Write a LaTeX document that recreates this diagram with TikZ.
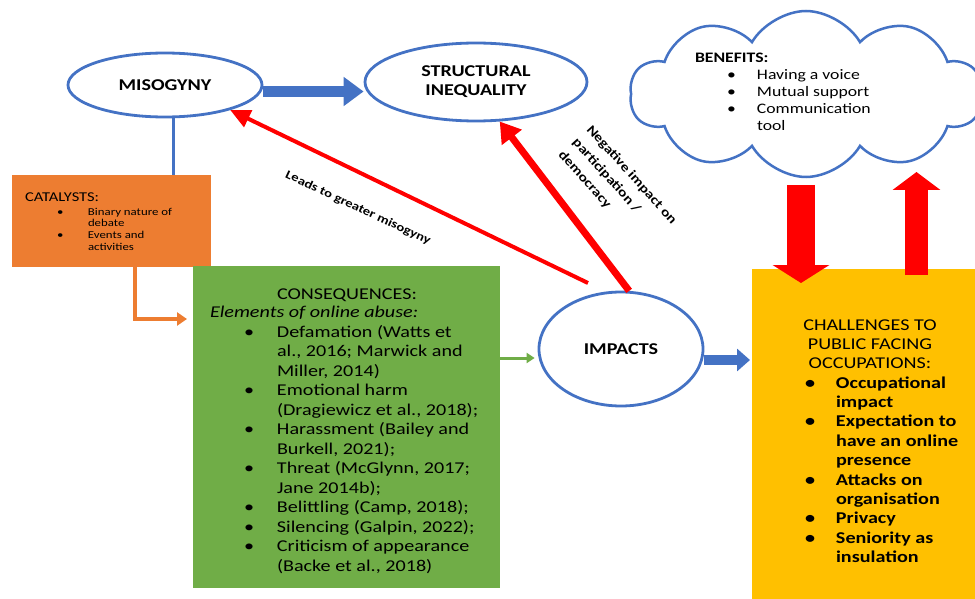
\documentclass[tikz,border=0pt]{standalone}
\usepackage{fontspec}
\setmainfont{Carlito}[FakeStretch=1.22]
\usepackage{array}
\usetikzlibrary{arrows.meta,shapes.geometric,shapes.symbols}
\definecolor{cblue}{HTML}{4472C4}
\definecolor{corange}{HTML}{ED7D31}
\definecolor{cgreen}{HTML}{70AD47}
\definecolor{cyellow}{HTML}{FFC000}
\definecolor{cred}{HTML}{FF0000}
\tikzset{
  ell/.style={ellipse, draw=cblue, line width=2.8pt, fill=white, inner sep=0pt,
    font=\bfseries\fontsize{16.5}{19}\selectfont, align=center},
  panel/.style={anchor=north west, inner sep=0pt, outer sep=0pt},
  txt/.style={inner sep=0pt, outer sep=0pt, text=black},
}
\begin{document}
\begin{tikzpicture}[x=1pt,y=-1pt]
\useasboundingbox (0,0) rectangle (975,599);
\fill[white] (0,0) rectangle (975,599);

% panels
\node[panel, fill=corange, minimum width=199pt, minimum height=92pt] (cat) at (12,175) {};
\node[panel, fill=cgreen, minimum width=307pt, minimum height=322pt] (con) at (193,266) {};
\node[panel, fill=cyellow, minimum width=223pt, minimum height=331pt] (chal) at (752,269) {};

% cloud
\node[cloud, draw=cblue, line width=2.5pt, fill=white, cloud puffs=10, cloud puff arc=120,
  aspect=2.2, minimum width=352pt, minimum height=166pt, inner sep=0pt] (ben) at (806,94) {};

% ellipses
\node[ell, minimum width=194pt, minimum height=64pt] (mis) at (165,85) {MISOGYNY};
\node[ell, minimum width=222pt, minimum height=78pt] (str) at (476,82) {STRUCTURAL\\INEQUALITY};
\node[ell, minimum width=164pt, minimum height=114pt] (imp) at (621,349) {IMPACTS};

% connectors
\draw[cblue, line width=3pt] (mis.south -| 173,0) -- (cat.north -| 173,0);
\draw[corange, line width=3.5pt, -{Triangle[width=13pt,length=10pt]}, shorten >=6pt]
  (cat.south -| 135,0) |- (con.west |- 0,319);
\draw[cgreen, line width=3pt, -{Triangle[width=10pt,length=8pt]}, shorten >=3pt]
  (con.east |- 0,358) -- (imp.west |- 0,358);
\draw[cblue, line width=10pt, -{Triangle[width=22pt,length=13pt]}, shorten >=2pt]
  (imp.east |- 0,360) -- (chal.west |- 0,360);
\draw[cblue, line width=11pt, -{Triangle[width=28pt,length=20pt]}]
  (mis.east |- 0,91.5) -- (str.west |- 0,91.5);
\coordinate (ls) at (588,283);
\draw[cred, line width=4pt, -{Triangle[width=18pt,length=20pt]}] (ls) -- (mis.-21);
\draw[cred, line width=7pt, -{Triangle[width=24pt,length=20pt]}] (imp.82) -- (str.-59);
\coordinate (d1) at (801,185);
\coordinate (d2) at (801,283);
\draw[cred, line width=28pt, -{Triangle[width=56pt,length=18pt]}] (d1) -- (d2);
\coordinate (u1) at (916.5,275);
\coordinate (u2) at (916.5,172);
\draw[cred, line width=23pt, -{Triangle[width=47pt,length=18pt]}] (u1) -- (u2);

% texts
\node[txt, anchor=base west, font=\fontsize{13.5}{16}\selectfont] (catH) at (25,201) {CATALYSTS:};
\node[txt, anchor=base west, font=\fontsize{10.5}{11.8}\selectfont] (catL) at (57,215)
  {\begin{tabular}[t]{@{}p{31pt}@{}l@{}}
   \textbullet & Binary nature of\\
   & debate\\
   \textbullet & Events and\\
   & activities
   \end{tabular}};

\node[txt, anchor=base, font=\fontsize{16.5}{19.5}\selectfont] (conH) at (347,299) {CONSEQUENCES:};
\node[txt, anchor=base west, font=\itshape\fontsize{16.5}{19.5}\selectfont] (conS) at (210,317) {Elements of online abuse:};
\node[txt, anchor=base west, font=\fontsize{16.5}{19.5}\selectfont] (conL) at (244,337)
  {\begin{tabular}[t]{@{}p{33pt}@{}l@{}}
   \textbullet & Defamation (Watts et\\
   & al., 2016; Marwick and\\
   & Miller, 2014)\\
   \textbullet & Emotional harm\\
   & (Dragiewicz et al., 2018);\\
   \textbullet & Harassment (Bailey and\\
   & Burkell, 2021);\\
   \textbullet & Threat (McGlynn, 2017;\\
   & Jane 2014b);\\
   \textbullet & Belittling (Camp, 2018);\\
   \textbullet & Silencing (Galpin, 2022);\\
   \textbullet & Criticism of appearance\\
   & (Backe et al., 2018)
   \end{tabular}};

\node[txt, anchor=base, font=\fontsize{16.5}{19.4}\selectfont] (chalH) at (870,330)
  {\begin{tabular}[t]{@{}c@{}}CHALLENGES TO\\PUBLIC FACING\\OCCUPATIONS:\end{tabular}};
\node[txt, anchor=base west, font=\bfseries\fontsize{16.5}{19.4}\selectfont] (chalL) at (805,388)
  {\begin{tabular}[t]{@{}p{31pt}@{}l@{}}
   \textbullet & Occupational\\
   & impact\\
   \textbullet & Expectation to\\
   & have an online\\
   & presence\\
   \textbullet & Attacks on\\
   & organisation\\
   \textbullet & Privacy\\
   \textbullet & Seniority as\\
   & insulation
   \end{tabular}};

\node[txt, anchor=base west, font=\bfseries\fontsize{14.5}{17}\selectfont] (benH) at (695,63) {BENEFITS:};
\node[txt, anchor=base west, font=\fontsize{14.5}{17}\selectfont] (benL) at (727,80)
  {\begin{tabular}[t]{@{}p{30pt}@{}l@{}}
   \textbullet & Having a voice\\
   \textbullet & Mutual support\\
   \textbullet & Communication\\
   & tool
   \end{tabular}};

\node[txt, rotate=-25, font=\bfseries\fontsize{12}{14}\selectfont] (lead) at (358,208) {Leads to greater misogyny};
\node[txt, rotate=-48, anchor=north west, align=left, font=\bfseries\fontsize{13}{16}\selectfont] (neg) at (593,124)
  {Negative impact on\\[3pt]participation /\\[3pt]democracy};
\end{tikzpicture}
\end{document}
